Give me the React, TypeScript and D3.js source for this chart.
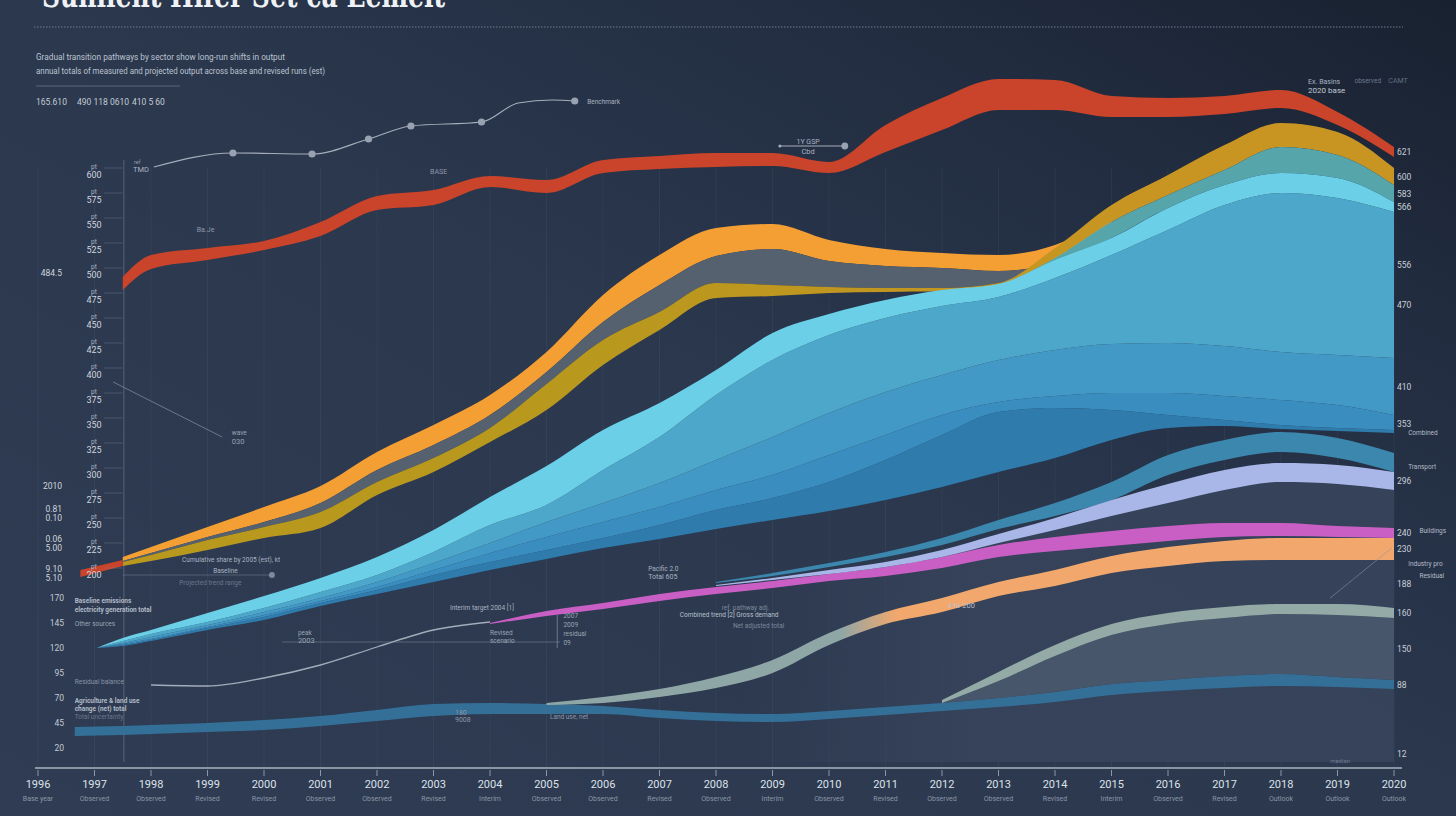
import React from "react";
import * as d3 from "d3";

const W = 1456;
const H = 816;

// ---------- axis categories ----------
const YEARS = [1996, 1997, 1998, 1999, 2000, 2001, 2002, 2003, 2004, 2005, 2006, 2007, 2008, 2009, 2010, 2011, 2012, 2013, 2014, 2015, 2016, 2017, 2018, 2019, 2020];
const YEAR_NOTES = ["Base year", "Observed", "Observed", "Revised", "Revised", "Observed", "Observed", "Revised", "Interim", "Observed", "Observed", "Revised", "Observed", "Interim", "Observed", "Revised", "Observed", "Observed", "Revised", "Interim", "Observed", "Revised", "Outlook", "Outlook", "Outlook"];
const LEFT_TICKS = [200, 225, 250, 275, 300, 325, 350, 375, 400, 425, 450, 475, 500, 525, 550, 575, 600];
const LOWER_TICKS = [20, 45, 70, 95, 120, 145, 170];
const START_NOTE_VALUES = [279, 256, 226, 196];
const START_NOTE_TEXT = [["2010"], ["0.81", "0.10"], ["0.06", "5.00"], ["9.10", "5.10"]];

// ---------- sample positions (fractional years) ----------
const S = [1997.5, 1998, 1999, 2000, 2001, 2002, 2003, 2004, 2005, 2006, 2007, 2008, 2009, 2010, 2011, 2012, 2013, 2014, 2015, 2016, 2017, 2018, 2019, 2020];
const FAN_YEARS = [1997.04, ...S];
const STEEL_YEARS = [1996.65, ...S];
const ORANGE_YEARS = S.slice(0, 19);
const TEAL_YEARS = S.slice(16);
const LATE_YEARS = S.slice(11);
const MAGENTA_YEARS = S.slice(7);
const SAGE_YEARS = S.slice(8);
const SAGE2_YEARS = S.slice(15);
const STUB_YEARS = [1996.75, 1997.5];
const LEAD_YEARS = [1998, 1999, 2000, 2001, 2002, 2003, 2004];
const BENCH_YEARS = [1998.05, 1999.45, 2000.85, 2001.85, 2002.6, 2003.85, 2004.5, 2005.1, 2005.5];

// ---------- series values ----------
const RED_TOP = [491, 513, 520, 527, 546, 572, 578, 592, 588, 608, 612, 615, 615, 606, 643, 670, 689, 688, 672, 670, 672, 678, 656, 621];
const RED_BOTTOM = [478, 499, 508, 518, 532, 558, 563, 581, 575, 595, 599, 601, 602, 595, 616, 638, 658, 658, 651, 651, 654, 660, 643, 611];
const STUB_TOP = [198, 208];
const STUB_BOTTOM = [191, 202];

const ORANGE_TOP = [211, 221, 241, 261, 282, 316, 343, 373, 416, 473, 513, 540, 544, 528, 519, 515, 513, 523, 552];
const ORANGE_BOTTOM = [207, 215, 231, 246, 265, 298, 323, 353, 396, 446, 483, 512, 519, 507, 502, 500, 497, 506, 545];
const GREY_BOTTOM = [206, 213, 228, 241, 256, 286, 310, 340, 384, 428, 456, 485, 483, 481, 480, 480, 485, 500, 540];

const GOLD_TOP = [206, 213, 228, 241, 256, 286, 310, 340, 384, 428, 456, 485, 483, 481, 480, 480, 485, 520, 563, 593, 623, 645, 636, 600];
const GOLD_BOTTOM = [202, 207, 218, 230, 240, 273, 296, 326, 358, 403, 438, 470, 472, 475, 476, 477, 481, 510, 546, 573, 598, 621, 613, 583];
const TEAL_BOTTOM = [478, 505, 530, 560, 583, 595, 590, 566];

const CYAN_TOP = [120, 130, 138, 155, 172, 190, 211, 238, 271, 302, 338, 365, 398, 435, 454, 468, 478, 484, 508, 530, 560, 583, 595, 590, 566];
const CYAN_BOTTOM = [120, 127, 134, 146, 160, 176, 193, 216, 243, 263, 298, 331, 373, 408, 433, 450, 462, 471, 490, 513, 538, 563, 575, 570, 556];
const MID_BOTTOM = [120, 125, 131, 143, 156, 170, 186, 205, 225, 246, 265, 285, 308, 331, 355, 376, 393, 408, 418, 424, 425, 422, 416, 413, 410];
const DEEP_BOTTOM = [120, 124, 129, 141, 153, 167, 181, 198, 215, 231, 246, 261, 278, 293, 313, 333, 353, 366, 372, 375, 375, 372, 368, 363, 353];
const DARK_BOTTOM = [120, 123, 128, 140, 151, 165, 178, 193, 206, 218, 230, 243, 258, 270, 286, 308, 333, 356, 360, 358, 353, 348, 343, 340, 338];
const FAN_BASE = [120, 122, 127, 138, 148, 162, 174, 186, 198, 209, 220, 229, 239, 248, 257, 268, 281, 296, 310, 328, 340, 342, 339, 337, 335];

const TEALBLUE_TOP = [186, 195, 205, 216, 230, 248, 265, 286, 313, 328, 336, 330, 315];
const TEALBLUE_BOTTOM = [185, 192, 201, 211, 223, 239, 252, 268, 293, 308, 316, 310, 296];
const LAVENDER_TOP = [183, 190, 198, 206, 218, 234, 250, 268, 284, 298, 305, 303, 296];
const LAVENDER_BOTTOM = [182, 188, 194, 201, 211, 225, 238, 252, 265, 278, 286, 284, 278];
const MAGENTA_TOP = [145, 157, 165, 174, 181, 187, 194, 201, 211, 223, 231, 237, 242, 245, 245, 242, 240];
const MAGENTA_BOTTOM = [144, 152, 159, 167, 174, 180, 187, 192, 200, 211, 217, 222, 227, 231, 232, 231, 230];
const LEAD_VALUES = [83, 82, 90, 103, 121, 138, 146];
const PEACH_TOP = [65, 71, 79, 91, 108, 135, 156, 170, 186, 198, 212, 221, 227, 230, 230, 230];
const PEACH_BOTTOM = [63, 65, 71, 80, 95, 123, 144, 156, 172, 182, 195, 202, 207, 208, 208, 208];
const SAGE2_TOP = [68, 96, 123, 144, 155, 161, 164, 164, 160];
const SAGE2_BOTTOM = [65, 87, 112, 133, 144, 150, 154, 153, 150];
const STEEL_TOP = [41, 42, 43, 45, 48, 52, 58, 64, 65, 64, 62, 58, 55, 54, 57, 61, 65, 70, 76, 84, 88, 92, 94, 91, 88];
const STEEL_BOTTOM = [32, 33, 34, 36, 38, 42, 47, 52, 54, 54, 54, 50, 47, 46, 49, 53, 57, 61, 66, 73, 77, 80, 82, 81, 79];
const BENCH_VALUES = [601, 615, 614, 629, 642, 646, 665, 668, 667];
const BENCH_DOTS = [1, 2, 3, 4, 5, 8];

const SANS = "Roboto, 'DejaVu Sans', sans-serif";

export default function App() {
  const x = d3.scaleLinear().domain([1996, 2020]).range([38, 1394]);
  const y = d3.scaleLinear().domain([0, 700]).range([768, 68]);

  const band = (years: number[], top: number[], bottom: number[]) =>
    d3
      .area<number>()
      .x((_, i) => x(years[i]))
      .y0((_, i) => y(bottom[i]))
      .y1((d) => y(d))
      .curve(d3.curveMonotoneX)(top) || "";
  const line = (years: number[], vals: number[]) =>
    d3
      .line<number>()
      .x((_, i) => x(years[i]))
      .y((d) => y(d))
      .curve(d3.curveMonotoneX)(vals) || "";
  const last = (a: number[]) => a[a.length - 1];

  const T = (yr: number, v: number, text: string, size = 7, fill = "#a9b2c0", anchor: "start" | "middle" | "end" = "start", weight = 400) => (
    <text x={x(yr)} y={y(v)} fontSize={size} fill={fill} textAnchor={anchor} fontFamily={SANS} fontWeight={weight}>
      {text}
    </text>
  );

  const underlayBottom = LATE_YEARS.map(() => 6);
  const slateTop = SAGE2_BOTTOM;
  const slateBottom = STEEL_TOP.slice(16);

  const endLabels: [number, string][] = [
    [(last(RED_TOP) + last(RED_BOTTOM)) / 2, String(last(RED_TOP))],
    [(last(GOLD_TOP) + last(GOLD_BOTTOM)) / 2, String(last(GOLD_TOP))],
    [(last(GOLD_BOTTOM) + last(TEAL_BOTTOM)) / 2, String(last(GOLD_BOTTOM))],
    [(last(CYAN_TOP) + last(CYAN_BOTTOM)) / 2, String(last(CYAN_TOP))],
    [(last(CYAN_BOTTOM) + last(MID_BOTTOM)) / 2 + 20, String(last(CYAN_BOTTOM))],
    [(last(CYAN_BOTTOM) + last(MID_BOTTOM)) / 2 - 20, String(last(MID_BOTTOM) + 60)],
    [(last(MID_BOTTOM) + last(DEEP_BOTTOM)) / 2, String(last(MID_BOTTOM))],
    [(last(DEEP_BOTTOM) + last(FAN_BASE)) / 2, String(last(DEEP_BOTTOM))],
    [(last(LAVENDER_TOP) + last(LAVENDER_BOTTOM)) / 2, String(last(LAVENDER_TOP))],
    [(last(MAGENTA_TOP) + last(MAGENTA_BOTTOM)) / 2, String(last(MAGENTA_TOP))],
    [(last(PEACH_TOP) + last(PEACH_BOTTOM)) / 2, String(last(PEACH_TOP))],
    [(last(PEACH_BOTTOM) + last(SAGE2_TOP)) / 2, String(last(PEACH_BOTTOM) - 20)],
    [(last(SAGE2_TOP) + last(SAGE2_BOTTOM)) / 2, String(last(SAGE2_TOP))],
    [(last(SAGE2_BOTTOM) + last(STEEL_TOP)) / 2, String(last(SAGE2_BOTTOM))],
    [(last(STEEL_TOP) + last(STEEL_BOTTOM)) / 2, String(last(STEEL_TOP))],
    [14, "12"],
  ];

  return (
    <svg width={W} height={H} viewBox={`0 0 ${W} ${H}`} style={{ display: "block", position: "absolute", left: 0, top: 0 }}>
      <defs>
        <linearGradient id="bg" x1="0" y1="1" x2="1" y2="0">
          <stop offset="0" stopColor="#2f3c53" />
          <stop offset="0.5" stopColor="#2b384e" />
          <stop offset="0.78" stopColor="#222d41" />
          <stop offset="1" stopColor="#18212f" />
        </linearGradient>
        <linearGradient id="under" gradientUnits="userSpaceOnUse" x1={x(2008.5)} x2={x(2012.5)} y1="0" y2="0">
          <stop offset="0" stopColor="#36435a" stopOpacity="0" />
          <stop offset="1" stopColor="#36435a" stopOpacity="0.95" />
        </linearGradient>
        <linearGradient id="sagepeach" gradientUnits="userSpaceOnUse" x1={x(2010.2)} x2={x(2011.2)} y1="0" y2="0">
          <stop offset="0" stopColor="#8fa6a6" />
          <stop offset="1" stopColor="#f2a86d" />
        </linearGradient>
        <linearGradient id="goldgrad" gradientUnits="userSpaceOnUse" x1={x(2006)} x2={x(2016)} y1="0" y2="0">
          <stop offset="0" stopColor="#b9981e" />
          <stop offset="1" stopColor="#c99522" />
        </linearGradient>
      </defs>
      <rect x={0} y={0} width={W} height={H} fill="url(#bg)" />

      {/* title block */}
      <text x={42} y={7} fontSize={36} fontFamily="'DejaVu Serif', serif" fontWeight={700} fill="#eef1f5" textLength={403} lengthAdjust="spacingAndGlyphs">
        Sunlient Hifer Set ca Eemelt
      </text>
      <line x1={34} x2={1403} y1={27} y2={27} stroke="#6f7b8c" strokeWidth={1} strokeDasharray="1.5 1.5" />
      <text x={36} y={60} fontSize={8.5} fill="#bcc4d0" fontFamily={SANS} textLength={249} lengthAdjust="spacingAndGlyphs">
        Gradual transition pathways by sector show long-run shifts in output
      </text>
      <text x={36} y={74} fontSize={8.5} fill="#bcc4d0" fontFamily={SANS} textLength={289} lengthAdjust="spacingAndGlyphs">
        annual totals of measured and projected output across base and revised runs (est)
      </text>
      <line x1={36} x2={180} y1={86} y2={86} stroke="#5d697b" strokeWidth={1} />
      <text x={36} y={105} fontSize={8.5} fill="#c3cad5" fontFamily={SANS}>165.610</text>
      <text x={77} y={105} fontSize={8.5} fill="#c3cad5" fontFamily={SANS}>490 118 0610</text>
      <text x={132} y={105} fontSize={8.5} fill="#c3cad5" fontFamily={SANS}>410 5 60</text>

      {/* vertical grid */}
      {YEARS.map((yr) => (
        <line key={"g" + yr} x1={x(yr)} x2={x(yr)} y1={y(600)} y2={y(0)} stroke="#ffffff" strokeOpacity={0.045} />
      ))}
      <line x1={x(1997.52)} x2={x(1997.52)} y1={y(608)} y2={y(6)} stroke="#8894a6" strokeOpacity={0.45} />
      <line x1={x(1997.5)} x2={x(2000.14)} y1={y(193)} y2={y(193)} stroke="#8e99aa" strokeOpacity={0.4} />
      <line x1={x(2000.32)} x2={x(2005.24)} y1={y(126)} y2={y(126)} stroke="#8e99aa" strokeOpacity={0.45} />

      {/* lower-right underlay */}
      <path d={band(LATE_YEARS, LAVENDER_BOTTOM, underlayBottom)} fill="url(#under)" />

      {/* lower bands */}
      <path d={band(STEEL_YEARS, STEEL_TOP, STEEL_BOTTOM)} fill="#336f97" />
      <path d={band(SAGE2_YEARS, slateTop, slateBottom)} fill="#47566a" />
      <path d={band(SAGE2_YEARS, SAGE2_TOP, SAGE2_BOTTOM)} fill="#93aaa7" />
      <path d={band(SAGE_YEARS, PEACH_TOP, PEACH_BOTTOM)} fill="url(#sagepeach)" />
      <path d={line(LEAD_YEARS, LEAD_VALUES)} fill="none" stroke="#a3acba" strokeWidth={1.3} />
      <path d={band(MAGENTA_YEARS, MAGENTA_TOP, MAGENTA_BOTTOM)} fill="#c95fc4" />
      <path d={band(LATE_YEARS, TEALBLUE_TOP, TEALBLUE_BOTTOM)} fill="#3b87ad" />
      <path d={band(LATE_YEARS, LAVENDER_TOP, LAVENDER_BOTTOM)} fill="#a8b7e8" />

      {/* upper ribbons */}
      <path d={band(ORANGE_YEARS, ORANGE_TOP, ORANGE_BOTTOM)} fill="#f39f33" />
      <path d={band(ORANGE_YEARS, ORANGE_BOTTOM, GREY_BOTTOM)} fill="#56616f" />
      <path d={band(S, GOLD_TOP, GOLD_BOTTOM)} fill="url(#goldgrad)" />
      <path d={band(TEAL_YEARS, GOLD_BOTTOM.slice(16), TEAL_BOTTOM)} fill="#56a5ab" />

      {/* blue fan */}
      <path d={band(FAN_YEARS, DARK_BOTTOM, FAN_BASE)} fill="#2e7bac" />
      <path d={band(FAN_YEARS, DEEP_BOTTOM, DARK_BOTTOM)} fill="#3a8dbf" />
      <path d={band(FAN_YEARS, MID_BOTTOM, DEEP_BOTTOM)} fill="#4399c5" />
      <path d={band(FAN_YEARS, CYAN_BOTTOM, MID_BOTTOM)} fill="#4da7ca" />
      <path d={band(FAN_YEARS, CYAN_TOP, CYAN_BOTTOM)} fill="#6acfe7" />

      {/* red */}
      <path d={band(STUB_YEARS, STUB_TOP, STUB_BOTTOM)} fill="#c9442a" />
      <path d={band(S, RED_TOP, RED_BOTTOM)} fill="#c9442a" />

      {/* benchmark line */}
      <path d={line(BENCH_YEARS, BENCH_VALUES)} fill="none" stroke="#a6aebb" strokeWidth={1.2} />
      {BENCH_DOTS.map((i) => (
        <circle key={"bd" + i} cx={x(BENCH_YEARS[i])} cy={y(BENCH_VALUES[i])} r={3.6} fill="#98a2b1" />
      ))}

      {/* left axis */}
      {LEFT_TICKS.map((v) => (
        <g key={"lt" + v}>
          <line x1={104} x2={x(1997.5)} y1={y(v)} y2={y(v)} stroke="#7f8a9b" strokeOpacity={0.35} />
          <text x={94} y={y(v) + 1} fontSize={6.5} fill="#aab3c1" textAnchor="middle" fontFamily={SANS}>pt</text>
          <text x={94} y={y(v) + 10} fontSize={9} fill="#cfd5de" textAnchor="middle" fontFamily={SANS}>{v}</text>
        </g>
      ))}
      <text x={62} y={y((RED_TOP[0] + RED_BOTTOM[0]) / 2) - 8} fontSize={8.5} fill="#cfd5de" textAnchor="end" fontFamily={SANS}>
        {(RED_TOP[0] + RED_BOTTOM[0]) / 2}
      </text>
      {START_NOTE_VALUES.map((v, i) => (
        <g key={"sn" + i}>
          {START_NOTE_TEXT[i].map((t, j) => (
            <text key={j} x={62} y={y(v) + j * 9} fontSize={8.5} fill="#cfd5de" textAnchor="end" fontFamily={SANS}>{t}</text>
          ))}
        </g>
      ))}
      {LOWER_TICKS.map((v) => (
        <text key={"lw" + v} x={64} y={y(v) + 3} fontSize={8.5} fill="#c3cad5" textAnchor="end" fontFamily={SANS}>{v}</text>
      ))}

      {/* x axis */}
      <line x1={35} x2={1402} y1={y(0)} y2={y(0)} stroke="#aab3c1" strokeWidth={1.6} />
      {YEARS.map((yr, i) => (
        <g key={"x" + yr}>
          <line x1={x(yr)} x2={x(yr)} y1={y(0) + 2} y2={y(0) + 8} stroke="#8d97a8" />
          <text x={x(yr)} y={788} fontSize={11} fill="#dde2ea" textAnchor="middle" fontFamily={SANS}>{yr}</text>
          <text x={x(yr)} y={801} fontSize={7} fill="#8c96a7" textAnchor="middle" fontFamily={SANS}>{YEAR_NOTES[i]}</text>
        </g>
      ))}

      {/* right end labels */}
      {endLabels.map(([v, t], i) => (
        <text key={"el" + i} x={1397} y={y(v) + 3} fontSize={8.5} fill="#c8cfd9" fontFamily={SANS}>{t}</text>
      ))}
      {T(2020.25, 333, "Combined", 6.5, "#b3bbc8")}
      {T(2020.25, 299, "Transport", 6.5, "#b3bbc8")}
      {T(2020.45, 235, "Buildings", 6.5, "#b3bbc8")}
      {T(2020.25, 202, "Industry pro", 6.5, "#b3bbc8")}
      {T(2020.45, 190, "Residual", 6.5, "#b3bbc8")}
      <line x1={x(2018.87)} x2={x(2019.96)} y1={y(170)} y2={y(220)} stroke="#8a95a6" strokeOpacity={0.7} strokeWidth={0.8} />

      {/* annotations */}
      {T(1997.7, 604, "ref", 5.5, "#8e98a8")}
      {T(1997.68, 596, "TMD", 7.5, "#aab3c1")}
      {T(2002.94, 594, "BASE", 7, "#8e98a8")}
      {T(1998.81, 536, "Ba.Je", 7, "#8e98a8")}
      <line x1={x(2009.13)} x2={x(2010.28)} y1={y(622)} y2={y(622)} stroke="#a6aebb" strokeWidth={1} />
      <circle cx={x(2009.13)} cy={y(622)} r={1.5} fill="#a6aebb" />
      <circle cx={x(2010.28)} cy={y(622)} r={3.4} fill="#98a2b1" />
      {T(2009.63, 624, "1Y GSP", 7, "#aab3c1", "middle")}
      {T(2009.63, 614, "Cbd", 7.5, "#aab3c1", "middle")}
      {T(2005.72, 664, "Benchmark", 6.5, "#aab3c1")}
      {T(2018.48, 684, "Ex. Basins", 7, "#aab3c1")}
      {T(2018.48, 675, "2020 base", 8, "#c3cad5")}
      {T(2019.3, 685, "observed", 6.5, "#6c7a8e")}
      {T(2019.9, 685, "CAMT", 7, "#5f6f84")}
      <line x1={x(1997.33)} x2={x(1999.26)} y1={y(386)} y2={y(331)} stroke="#7d8899" strokeWidth={0.8} />
      {T(1999.43, 333, "wave", 6.5, "#9aa4b3")}
      {T(1999.43, 324, "030", 7.5, "#9aa4b3")}
      {T(1998.55, 206, "Cumulative share by 2005 (est), kt", 6.5, "#aab3c1")}
      {T(1999.1, 195, "Baseline", 6.5, "#aab3c1")}
      <circle cx={x(2000.14)} cy={y(193)} r={3} fill="#7e8a9c" />
      {T(1998.5, 183, "Projected trend range", 6.5, "#6b788b")}
      {T(2000.6, 133, "peak", 6.5, "#9aa4b3")}
      {T(2000.6, 125, "2003", 7.5, "#9aa4b3")}
      {T(2003.29, 158, "Interim target 2004 [1]", 6.5, "#aab3c1")}
      {T(2004.0, 133, "Revised", 6.5, "#9aa4b3")}
      {T(2004.0, 125, "scenario", 6.5, "#9aa4b3")}
      <line x1={x(2005.19)} x2={x(2005.19)} y1={y(153)} y2={y(120)} stroke="#8a95a6" strokeWidth={0.7} />
      {T(2005.3, 150, "2007", 6.5, "#9aa4b3")}
      {T(2005.3, 141, "2009", 6.5, "#9aa4b3")}
      {T(2005.3, 132, "residual", 6.5, "#9aa4b3")}
      {T(2005.3, 123, "09", 6.5, "#9aa4b3")}
      {T(2007.36, 151, "Combined trend [2]  Gross demand", 6.5, "#b8c0cc")}
      {T(2008.1, 158, "ref. pathway adj.", 6.5, "#7c889a")}
      {T(2008.3, 140, "Net adjusted total", 6.5, "#7c889a")}
      {T(2006.8, 197, "Pacific 2.0", 6.5, "#aab3c1")}
      {T(2006.8, 189, "Total 605", 7, "#aab3c1")}
      {T(2003.38, 53, "180", 7, "#8c97a8")}
      {T(2003.38, 46, "9008", 7, "#8c97a8")}
      {T(2005.06, 49, "Land use, net", 6.5, "#8c97a8")}
      {T(2012.1, 160, "4 to 200", 7.5, "#b8c0cc")}
      {T(1996.65, 165, "Baseline emissions", 6.5, "#b2bac7", "start", 700)}
      {T(1996.65, 156, "electricity generation total", 6.5, "#b2bac7", "start", 700)}
      {T(1996.65, 142, "Other sources", 6.5, "#9aa4b3")}
      {T(1996.65, 84, "Residual balance", 6.5, "#8794a8")}
      {T(1996.65, 65, "Agriculture & land use", 6.5, "#b2bac7", "start", 700)}
      {T(1996.65, 57, "change (net) total", 6.5, "#b2bac7", "start", 700)}
      {T(1996.65, 49, "Total uncertainty", 6.5, "#6b788b")}
      {T(2018.87, 5, "median", 6, "#6f7c8f")}
    </svg>
  );
}
